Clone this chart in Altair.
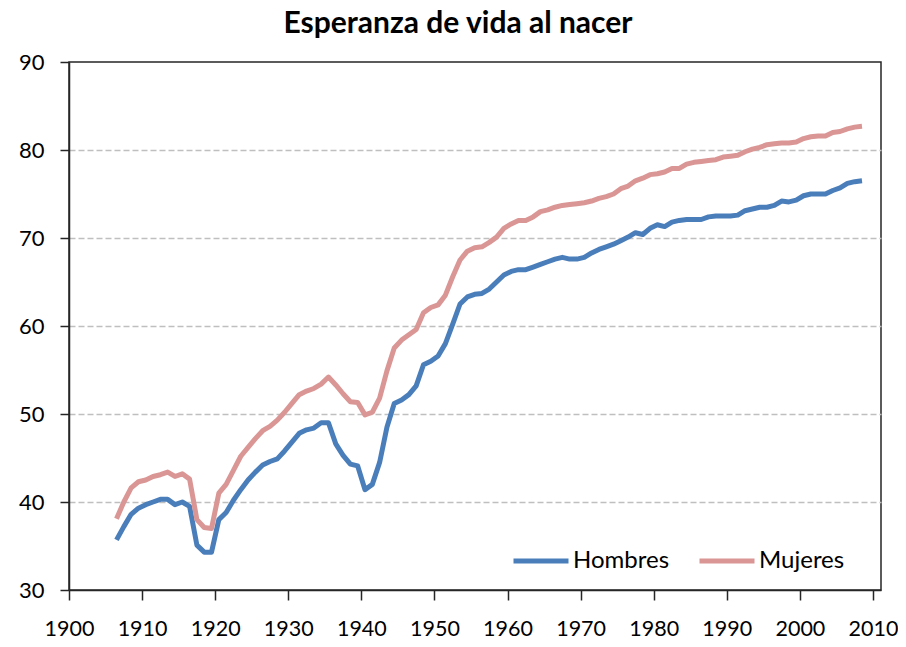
import altair as alt
import pandas as pd

# ---- data ----
years = list(range(1906, 2009))

hombres = [
    35.7, 37.2, 38.6, 39.3,
    39.7, 40.0, 40.3, 40.3, 39.7, 40.0, 39.5, 35.1, 34.3, 34.3,
    38.0, 38.8, 40.2, 41.4, 42.5, 43.4, 44.2, 44.6, 44.9, 45.8,
    46.8, 47.8, 48.2, 48.4, 49.0, 49.0, 46.6, 45.3, 44.3, 44.1,
    41.4, 42.0, 44.5, 48.5, 51.2, 51.6, 52.2, 53.2, 55.6, 56.0,
    56.6, 58.0, 60.2, 62.5, 63.3, 63.6, 63.7, 64.2, 65.0, 65.8,
    66.2, 66.4, 66.4, 66.7, 67.0, 67.3, 67.6, 67.8, 67.6, 67.6,
    67.8, 68.3, 68.7, 69.0, 69.3, 69.7, 70.1, 70.6, 70.4, 71.1,
    71.5, 71.3, 71.8, 72.0, 72.1, 72.1, 72.1, 72.4, 72.5, 72.5,
    72.5, 72.6, 73.1, 73.3, 73.5, 73.5, 73.7, 74.2, 74.1, 74.3,
    74.8, 75.0, 75.0, 75.0, 75.4, 75.7, 76.2, 76.4, 76.5,
]

mujeres = [
    38.1, 40.0, 41.6, 42.3,
    42.5, 42.9, 43.1, 43.4, 42.9, 43.2, 42.6, 38.0, 37.1, 37.0,
    41.0, 42.0, 43.6, 45.2, 46.2, 47.2, 48.1, 48.6, 49.3, 50.2,
    51.2, 52.2, 52.6, 52.9, 53.4, 54.2, 53.3, 52.3, 51.4, 51.3,
    49.9, 50.2, 51.8, 54.9, 57.5, 58.4, 59.0, 59.6, 61.5, 62.1,
    62.4, 63.5, 65.6, 67.5, 68.5, 68.9, 69.0, 69.5, 70.1, 71.1,
    71.6, 72.0, 72.0, 72.4, 73.0, 73.2, 73.5, 73.7, 73.8, 73.9,
    74.0, 74.2, 74.5, 74.7, 75.0, 75.6, 75.9, 76.5, 76.8, 77.2,
    77.3, 77.5, 77.9, 77.9, 78.4, 78.6, 78.7, 78.8, 78.9, 79.2,
    79.3, 79.4, 79.8, 80.1, 80.3, 80.6, 80.7, 80.8, 80.8, 80.9,
    81.3, 81.5, 81.6, 81.6, 82.0, 82.1, 82.4, 82.6, 82.7,
]

series = ["Hombres", "Mujeres"]
colors = ["#4A7EBB", "#DA9694"]
x_ticks = list(range(1900, 2011, 10))
y_ticks = list(range(30, 91, 10))
title_text = "Esperanza de vida al nacer"

rows = []
for name, vals in zip(series, [hombres, mujeres]):
    for yr, v in zip(years, vals):
        rows.append({"year": yr, "serie": name, "valor": v})
df = pd.DataFrame(rows)

FONT = "Lato"
AX = "#262626"

chart = (
    alt.Chart(df)
    .transform_calculate(xpos="datum.year + 0.5")
    .mark_line(strokeWidth=5, strokeJoin="round", strokeCap="butt")
    .encode(
        x=alt.X(
            "xpos:Q",
            scale=alt.Scale(domain=[1900, 2011.1], nice=False, zero=False),
            axis=alt.Axis(
                values=x_ticks, format="d", title=None, grid=False,
                tickSize=10, tickWidth=1.5, tickColor=AX,
                domainColor=AX, domainWidth=1.5,
                labelPadding=18, labelFont=FONT,
                labelFontSize=21.5, labelColor="#000000", labelFlush=False,
            ),
        ),
        y=alt.Y(
            "valor:Q",
            scale=alt.Scale(domain=[30, 90], nice=False, zero=False),
            axis=alt.Axis(
                values=y_ticks, title=None, grid=True,
                gridColor="#BFBFBF", gridDash=[6, 3], gridWidth=1.5,
                gridOpacity={"condition": {"test": "datum.value == 90 || datum.value == 30", "value": 0}, "value": 1},
                tickSize=9, tickWidth=1.5, tickColor=AX,
                domainColor=AX, domainWidth=1.5,
                labelPadding=16, labelFont=FONT, labelFontSize=22,
                labelColor="#000000",
            ),
        ),
        color=alt.Color(
            "serie:N",
            scale=alt.Scale(domain=series, range=colors),
            legend=alt.Legend(
                title=None, orient="none", legendX=442, legendY=469,
                direction="horizontal", symbolType="stroke",
                symbolSize=3025, symbolStrokeWidth=5,
                labelFont=FONT, labelFontSize=24, labelColor="#000000",
                labelOffset=2, columnPadding=19, padding=0,
            ),
        ),
    )
    .properties(
        width=812,
        height=528,
        autosize="none",
        padding={"left": 61, "top": 54, "right": 17, "bottom": 49},
        title=alt.TitleParams(
            text=title_text, font=FONT, fontSize=30, fontWeight="bold",
            color="#000000", anchor="middle", dx=-17, offset=12,
        ),
    )
    .configure_view(stroke=AX, strokeWidth=1.5)
)

chart.save("out.html", embed_options={"renderer": "svg", "actions": False})
